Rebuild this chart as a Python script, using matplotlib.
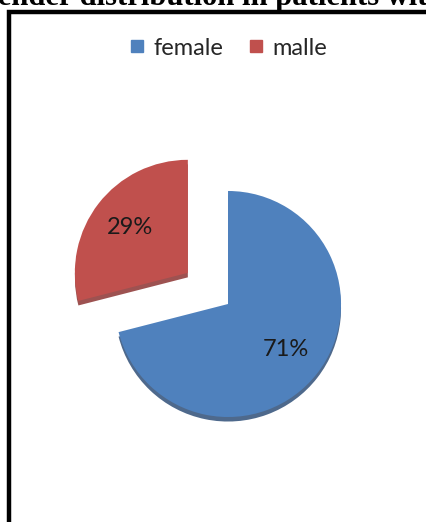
import matplotlib.pyplot as plt
from matplotlib.lines import Line2D
from matplotlib.patches import Rectangle

# gender split of the patients
labels = ['female', 'malle']
shares = [71, 29]
colors = ['#4F81BD', '#C0504D']
side_colors = ['#2f4f78', '#8c3432']

fig = plt.figure(figsize=(4.27, 5.22), dpi=100)
fig.patch.set_facecolor('white')

ax = fig.add_axes([0, 0, 1, 1])

# side faces / shadow drawn a bit lower, then the top faces
ax.pie(shares, colors=side_colors, startangle=90, counterclock=False,
       explode=[0, 0.45], center=(0, -0.04), radius=1.0,
       wedgeprops=dict(linewidth=0, alpha=0.85))
wedges, _, autotexts = ax.pie(
    shares, colors=colors, startangle=90, counterclock=False,
    explode=[0, 0.45], autopct='%1.0f%%', pctdistance=0.65,
    wedgeprops=dict(linewidth=0),
    textprops=dict(fontsize=17, color='#1a1a1a', family=['Lato', 'DejaVu Sans']))

ax.set_xlim(-2.018, 1.761)
ax.set_ylim(-1.929, 2.690)
ax.set_aspect('auto')
ax.axis('off')

# legend across the top of the box
handles = [Line2D([], [], marker='s', linestyle='none', markersize=8,
                  markerfacecolor=c, markeredgecolor=c) for c in colors]
fig.legend(handles, labels, loc='center', bbox_to_anchor=(0.527, 0.908),
           ncol=2, frameon=False, handletextpad=0.1, columnspacing=0.8,
           handlelength=1.2, prop=dict(family=['Lato', 'DejaVu Sans'], size=17),
           labelcolor='#262626')

# heavy frame around the chart (runs off the right and bottom edges)
fig.patches.append(Rectangle((9 / 427, -0.1), 1.2, 1.1 - 11.5 / 522,
                             transform=fig.transFigure, fill=False,
                             edgecolor='black', linewidth=3.2))

# caption sitting above the frame
fig.text(-0.061, 1 - 5 / 522, 'Gender distribution in patients with',
         ha='left', va='baseline', fontsize=22, fontweight='bold',
         family=['Liberation Serif', 'DejaVu Serif'])

fig.savefig('out.png', dpi=100)
